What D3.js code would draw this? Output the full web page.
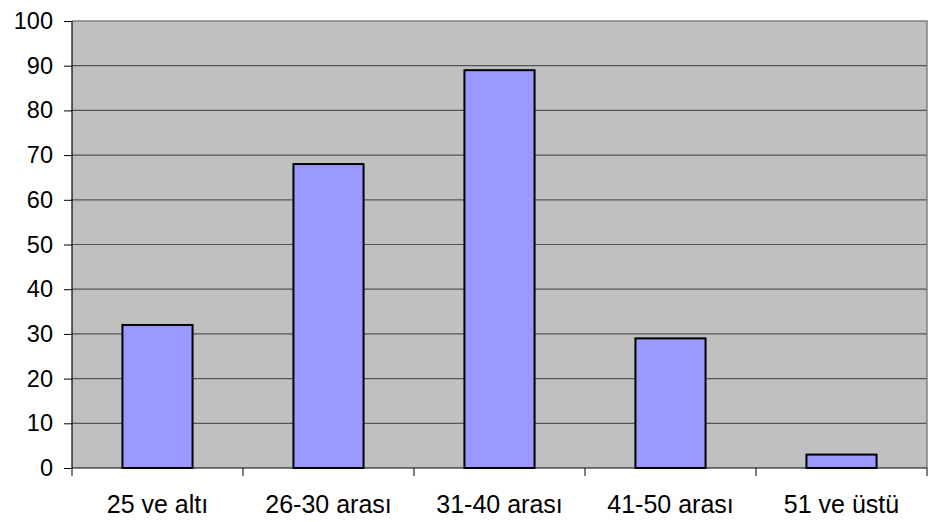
<!DOCTYPE html>
<html>
<head>
<meta charset="utf-8">
<script src="https://cdn.jsdelivr.net/npm/d3@7"></script>
<style>
  html, body { margin: 0; padding: 0; background: #fff; }
  svg { display: block; font-family: "Liberation Sans", Arial, sans-serif; }
</style>
</head>
<body>
<svg id="chart" width="928" height="522"></svg>
<script>
// Age groups and counts
const categories = ["25 ve altı", "26-30 arası", "31-40 arası", "41-50 arası", "51 ve üstü"];
const values = [32, 68, 89, 29, 3];
const yTicks = [0, 10, 20, 30, 40, 50, 60, 70, 80, 90, 100];

const svg = d3.select("#chart");
const margin = { top: 21, right: 1, bottom: 54, left: 72 };
const W = 928, H = 522;
const innerW = W - margin.left - margin.right;
const innerH = H - margin.top - margin.bottom;

const g = svg.append("g").attr("transform", `translate(${margin.left},${margin.top})`);

const x = d3.scaleBand().domain(categories).range([0, innerW]).paddingInner(0.59).paddingOuter(0.295);
const xBoundary = d3.scaleLinear().domain([0, categories.length]).range([0, innerW]);
const y = d3.scaleLinear().domain([0, 100]).range([innerH, 0]);

// plot background
g.append("rect")
  .attr("x", 0).attr("y", 0).attr("width", innerW).attr("height", innerH)
  .attr("fill", "#c0c0c0");

// gridlines
g.append("g").selectAll("line")
  .data(yTicks.filter(t => t > 0 && t < 100))
  .join("line")
  .attr("x1", 0).attr("x2", innerW)
  .attr("y1", d => y(d)).attr("y2", d => y(d))
  .attr("stroke", "#555").attr("stroke-width", 1.2);

// top and right border
g.append("path")
  .attr("d", `M0,${y(100)}H${innerW}V${innerH}`)
  .attr("fill", "none").attr("stroke", "#808080").attr("stroke-width", 1.5);

// bars
g.append("g").selectAll("rect")
  .data(values)
  .join("rect")
  .attr("x", (d, i) => x(categories[i]))
  .attr("y", d => y(d))
  .attr("width", x.bandwidth())
  .attr("height", d => innerH - y(d))
  .attr("fill", "#9999ff")
  .attr("stroke", "#000")
  .attr("stroke-width", 2);

// y axis
const yAxis = d3.axisLeft(y).tickValues(yTicks).tickSize(8).tickPadding(11).tickFormat(d3.format("d"));
const ya = g.append("g").call(yAxis)
  .attr("font-size", 23.5).attr("font-family", "Liberation Sans, Arial, sans-serif");
ya.select(".domain").attr("stroke", "#000").attr("stroke-width", 1.2).attr("d", `M0,${innerH}V${y(100)}`);
ya.selectAll(".tick line").attr("stroke", "#000");
ya.selectAll(".tick text").attr("fill", "#000");

// x axis baseline
g.append("line")
  .attr("x1", 0).attr("x2", innerW).attr("y1", innerH).attr("y2", innerH)
  .attr("stroke", "#000").attr("stroke-width", 1.2);

// category boundary ticks
g.append("g").selectAll("line")
  .data(d3.range(categories.length + 1))
  .join("line")
  .attr("x1", d => xBoundary(d)).attr("x2", d => xBoundary(d))
  .attr("y1", innerH).attr("y2", innerH + 8)
  .attr("stroke", "#000").attr("stroke-width", 1);

// category labels
g.append("g").selectAll("text")
  .data(categories)
  .join("text")
  .attr("x", d => x(d) + x.bandwidth() / 2)
  .attr("y", innerH + 45)
  .attr("text-anchor", "middle")
  .attr("font-size", 25)
  .attr("fill", "#000")
  .text(d => d);
</script>
</body>
</html>
